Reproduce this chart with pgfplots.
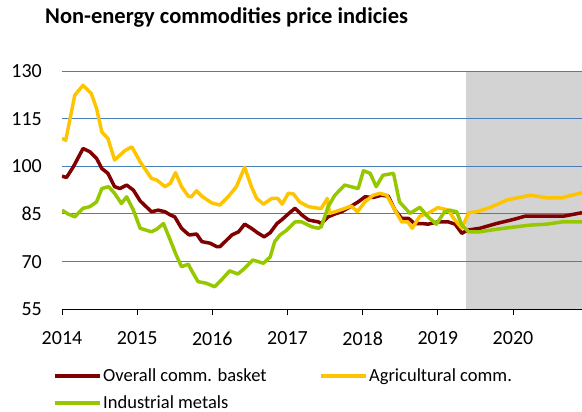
\documentclass[border=0pt]{standalone}
\usepackage{pgfplots}
\pgfplotsset{compat=1.18}
\usepackage{fontspec}
\setmainfont{Carlito}
\definecolor{cRed}{RGB}{128,0,0}
\definecolor{cYel}{RGB}{255,196,0}
\definecolor{cGrn}{RGB}{150,200,0}
\definecolor{cGrid}{RGB}{74,126,187}
\definecolor{cShade}{RGB}{211,211,211}
\begin{document}
\begin{tikzpicture}
\begin{axis}[
  set layers,
  scale only axis, width=520pt, height=238.3pt,
  xmin=2014, xmax=2020.918, ymin=55, ymax=130,
  ytick={55,70,85,100,115,130},
  xtick={2014,2015,2016,2017,2018,2019,2020},
  xticklabels={2014,2015,2016,2017,2018,2019,2020},
  /pgf/number format/assume math mode=true,
  ymajorgrids, grid style={cGrid, line width=1pt},
  axis x line*=bottom, axis y line*=left,
  y axis line style={draw=none}, ytick style={draw=none},
  x axis line style={black, line width=0.9pt},
  xtick style={black, line width=0.9pt},
  tick align=outside, major tick length=6pt,
  tick label style={font=\fontsize{20}{22}\selectfont, inner sep=0pt},
  yticklabel style={anchor=east, xshift=-14pt},
  xticklabel style={anchor=north, yshift=-16pt},
  title={Non-energy commodities price indicies},
  title style={font=\bfseries\fontsize{22.5}{24}\selectfont, anchor=base west, at={(axis description cs:-0.0327,1.176)}, inner sep=0pt},
  legend columns=2,
  legend cell align=left,
  legend image code/.code={\draw[#1] (0pt,0pt) -- (45pt,0pt);},
  legend style={draw=none, fill=none, inner sep=0pt, at={(axis description cs:-0.0173,-0.242)}, anchor=north west,
     font=\fontsize{18.5}{20}\selectfont, row sep=10pt,
     nodes={inner sep=1.5pt},
     /tikz/every even column/.append style={column sep=51pt}},
  every axis plot/.append style={line width=3.5pt, line join=round},
]
\addplot[fill=cShade, draw=none, on layer=axis background, forget plot] coordinates {(2019.37,55) (2019.37,130) (2020.918,130) (2020.918,55)};
\addplot[cRed] table {
2014.00 96.9
2014.06 96.5
2014.15 99.8
2014.28 105.6
2014.37 104.6
2014.46 102.5
2014.53 99.3
2014.61 97.8
2014.70 93.6
2014.77 93
2014.86 94.1
2014.95 92.5
2015.04 89.1
2015.19 85.7
2015.28 86.2
2015.37 85.7
2015.44 84.7
2015.50 84.1
2015.59 80.5
2015.68 78.6
2015.70 78.4
2015.79 78.7
2015.86 76.3
2015.97 75.8
2016.06 74.7
2016.10 74.7
2016.17 76.3
2016.26 78.4
2016.35 79.4
2016.43 81.8
2016.52 80.5
2016.60 79.1
2016.69 77.8
2016.77 79.1
2016.86 82
2016.92 83.1
2017.01 85
2017.10 86.8
2017.19 84.7
2017.28 83.1
2017.41 82.5
2017.45 82
2017.54 84.1
2017.63 85
2017.72 85.7
2017.85 87.5
2017.94 88.8
2018.03 90.4
2018.14 90.2
2018.25 90.9
2018.34 90.6
2018.43 86.2
2018.52 83.6
2018.61 83.6
2018.69 82
2018.78 82
2018.87 81.8
2019.00 82.5
2019.14 82.5
2019.23 81.8
2019.32 78.9
2019.39 79.9
2019.56 80.5
2019.78 82
2020.01 83.3
2020.16 84.3
2020.45 84.3
2020.67 84.3
2020.918 85.4
};
\addlegendentry{Overall comm. basket}
\addplot[cYel] table {
2014.00 108.8
2014.05 108.2
2014.17 122.4
2014.28 125.5
2014.39 122.9
2014.46 118.2
2014.53 110.8
2014.61 108.8
2014.70 102
2014.84 105
2014.93 106.1
2015.04 101.4
2015.19 96.2
2015.26 95.7
2015.37 93.6
2015.44 94.6
2015.51 98
2015.59 93.6
2015.68 90.6
2015.72 90.4
2015.79 92.3
2015.86 90.6
2015.99 88.5
2016.10 87.8
2016.21 90.4
2016.32 93.6
2016.43 99.7
2016.52 93.6
2016.59 89.9
2016.68 88.1
2016.79 89.9
2016.87 89.9
2016.93 88.1
2017.01 91.5
2017.08 91.3
2017.16 88.8
2017.28 87.3
2017.41 86.8
2017.45 86.8
2017.53 89.9
2017.56 85.2
2017.63 85.7
2017.72 86.4
2017.85 87.5
2017.93 85.7
2018.03 88.8
2018.14 90.9
2018.23 91.5
2018.32 90.9
2018.43 86.2
2018.52 82.5
2018.60 82.5
2018.66 80.5
2018.76 84.3
2018.87 85.2
2019.00 87
2019.14 86.2
2019.21 83.6
2019.32 80.5
2019.41 85.4
2019.52 85.7
2019.70 87.1
2019.92 89.4
2020.23 90.9
2020.45 90.1
2020.65 90.1
2020.918 91.7
};
\addlegendentry{Agricultural comm.}
\addplot[cGrn] table {
2014.00 86.2
2014.08 85
2014.17 84.1
2014.28 86.8
2014.37 87.3
2014.46 88.8
2014.53 93
2014.62 93.6
2014.70 91.5
2014.79 88.3
2014.86 90.4
2014.95 86.2
2015.04 80.5
2015.19 79.4
2015.26 80.2
2015.35 82
2015.44 76.8
2015.51 72.6
2015.59 68.4
2015.68 69.2
2015.72 67.4
2015.81 63.7
2015.92 63.2
2016.03 62.1
2016.12 64.2
2016.23 67.1
2016.34 66.1
2016.43 67.9
2016.54 70.5
2016.68 69.5
2016.77 71.5
2016.83 76.3
2016.90 78.4
2016.99 79.9
2017.10 82.5
2017.19 82.5
2017.32 81
2017.41 80.5
2017.45 81
2017.54 87.3
2017.63 90.9
2017.76 94.1
2017.94 93
2018.01 98.6
2018.10 97.8
2018.18 93.6
2018.27 97.2
2018.41 97.8
2018.49 88.8
2018.63 85.2
2018.76 87.1
2018.87 84.1
2018.98 81.8
2019.09 85.7
2019.16 86.2
2019.25 85.7
2019.32 81.5
2019.41 79.4
2019.56 79.4
2019.78 80.2
2020.05 81
2020.23 81.5
2020.45 81.8
2020.65 82.5
2020.918 82.5
};
\addlegendentry{Industrial metals}
\end{axis}
\pgfresetboundingbox
\path (-62pt,-102.7pt) rectangle (520pt,309.3pt);
\end{tikzpicture}
\end{document}
